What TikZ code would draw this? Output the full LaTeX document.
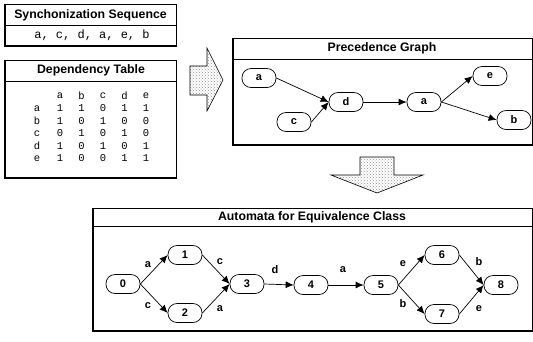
\documentclass[tikz,border=0pt]{standalone}
\usepackage{fontspec}
\setmainfont{Liberation Sans}
\newfontfamily\tabfont{Liberation Mono}
\usetikzlibrary{arrows.meta,patterns}

\begin{document}
\begin{tikzpicture}[x=1pt,y=-1pt,
  panel/.style={draw,line width=0.7pt},
  panelshade/.style={line width=1.5pt},
  title/.style={font=\bfseries\fontsize{12.3}{14}\selectfont,inner sep=0pt},
  state/.style={draw,line width=0.7pt,rounded corners=9pt,minimum width=34pt,
    minimum height=19pt,inner sep=0pt,font=\bfseries\fontsize{11}{13}\selectfont},
  edge/.style={line width=0.7pt,-{Latex[length=8pt,width=7pt]}},
  lbl/.style={font=\bfseries\fontsize{11}{13}\selectfont,inner sep=0pt},
  cell/.style={font=\tabfont\fontsize{10.5}{12}\selectfont,inner sep=0pt},
  bigarrow/.style={draw,line width=0.6pt,preaction={fill=white},
    pattern=crosshatch dots,pattern color=gray!85}
]
\useasboundingbox (0,0) rectangle (533,341);

% ---------- Synchronization sequence panel ----------
\draw[panel] (5,4) rectangle (176,46);
\draw[panel] (5,25) -- (176,25);
\draw[panelshade] (5,4) -- (5,46) -- (176,46);
\node[title] (syncTitle) at (90.5,15) {Synchonization Sequence};
\node[cell,font=\tabfont\fontsize{12}{14}\selectfont] (seq) at (92,35.5) {a, c, d, a, e, b};

% ---------- Dependency table panel ----------
\draw[panel] (5,60) rectangle (176,178);
\draw[panel] (5,81) -- (176,81);
\draw[panelshade] (5,60) -- (5,178) -- (176,178);
\node[title] (depTitle) at (91,70.5) {Dependency Table};
\foreach \c [count=\i] in {a,b,c,d,e}
  \node[cell] (h-\c) at (38.5+21.5*\i,96) {\c};
\foreach \r/\vals [count=\j] in {a/{1,1,0,1,1},b/{1,0,1,0,0},c/{0,1,0,1,0},d/{1,0,1,0,1},e/{1,0,0,1,1}}{
  \node[cell] (r-\r) at (37,96+12.5*\j) {\r};
  \foreach \v [count=\i] in \vals
    \node[cell] (t-\r-\i) at (38.5+21.5*\i,96+12.5*\j) {\v};
}

% ---------- Transformation arrows ----------
\draw[bigarrow] (190,66) -- (207,66) -- (207,48) -- (223,80) -- (207,111)
  -- (207,95) -- (190,95) -- cycle;
\draw[bigarrow] (360,157) -- (394,157) -- (394,175) -- (423,175) -- (377,193)
  -- (331,175) -- (360,175) -- cycle;

% ---------- Precedence graph panel ----------
\draw[panel] (233,38) rectangle (532,145);
\draw[panel] (233,59) -- (532,59);
\draw[panelshade] (233,38) -- (233,145) -- (532,145);
\node[title] (precTitle) at (382,48.5) {Precedence Graph};

\node[state] (pa)  at (259,78)  {a};
\node[state] (pc)  at (294,122) {c};
\node[state] (pd)  at (346,102) {d};
\node[state] (pa2) at (424,102) {a};
\node[state] (pe)  at (490,76)  {e};
\node[state] (pb)  at (514,120) {b};

\draw[edge] (pa.east)  -- (pd.west);
\draw[edge] (pc.east)  -- (pd.west);
\draw[edge] (pd.east)  -- (pa2.west);
\draw[edge] (pa2.east) -- (pe.west);
\draw[edge] (pa2.east) -- (pb.west);

% ---------- Automaton panel ----------
\draw[panel] (93,208) rectangle (532,331);
\draw[panel] (93,226) -- (532,226);
\draw[panelshade] (93,208) -- (93,331) -- (532,331);
\node[title] (autoTitle) at (312,217) {Automata for Equivalence Class};

\node[state] (s0) at (123,284) {0};
\node[state] (s1) at (185,255) {1};
\node[state] (s2) at (185,313) {2};
\node[state] (s3) at (247,284) {3};
\node[state] (s4) at (311,285) {4};
\node[state] (s5) at (381,285) {5};
\node[state] (s6) at (442,255) {6};
\node[state] (s7) at (442,314) {7};
\node[state] (s8) at (501,285) {8};

\draw[edge] (s0.east) -- (s1.west);
\draw[edge] (s0.east) -- (s2.west);
\draw[edge] (s1.east) -- (s3.west);
\draw[edge] (s2.east) -- (s3.west);
\draw[edge] (s3.east) -- (s4.west);
\draw[edge] (s4.east) -- (s5.west);
\draw[edge] (s5.east) -- (s6.west);
\draw[edge] (s5.east) -- (s7.west);
\draw[edge] (s6.east) -- (s8.west);
\draw[edge] (s7.east) -- (s8.west);

\node[lbl] (l01) at (148,265) {a};
\node[lbl] (l02) at (148,306) {c};
\node[lbl] (l13) at (220,262) {c};
\node[lbl] (l23) at (220,309) {a};
\node[lbl] (l34) at (275,270) {d};
\node[lbl] (l45) at (343,270) {a};
\node[lbl] (l56) at (403,264) {e};
\node[lbl] (l57) at (403,304) {b};
\node[lbl] (l68) at (479,262) {b};
\node[lbl] (l78) at (479,309) {e};
\end{tikzpicture}
\end{document}
